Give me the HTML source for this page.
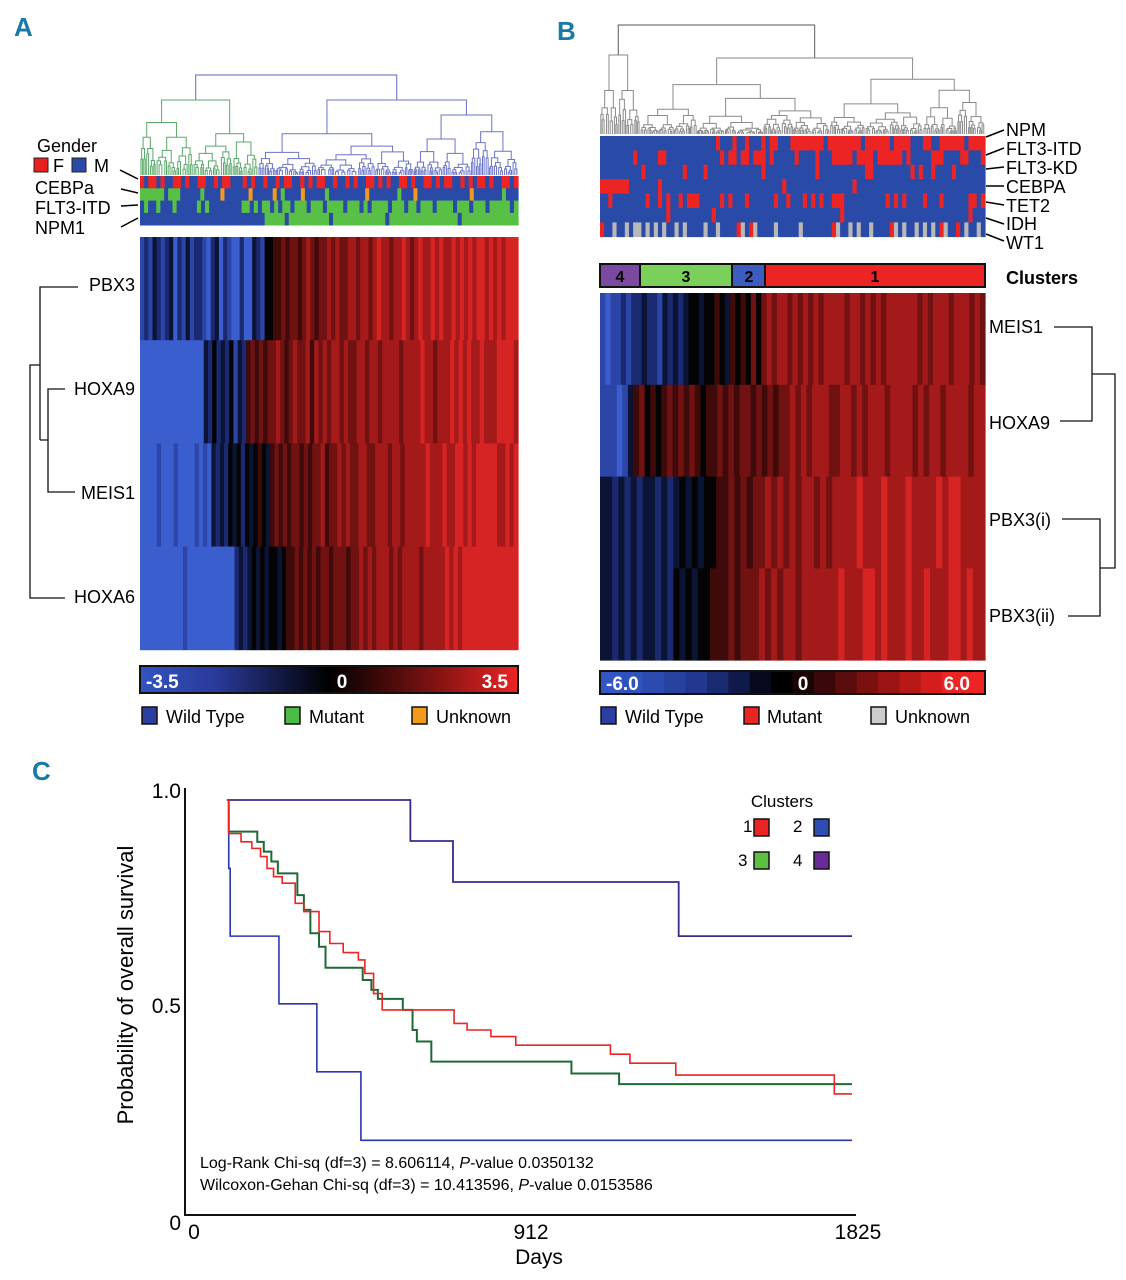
<!DOCTYPE html>
<html><head><meta charset="utf-8"><style>
html,body{margin:0;padding:0;background:#fff;}
svg{display:block;font-family:"Liberation Sans",sans-serif;}
</style></head><body>
<svg id="fig" width="1126" height="1280" viewBox="0 0 1126 1280" xmlns="http://www.w3.org/2000/svg">
<rect width="1126" height="1280" fill="#fff"/>
<g id="panelA">
 <text x="14" y="36" font-size="26" font-weight="bold" fill="#1b7aa5">A</text>
 <g id="dendA"></g>
 <g id="annA"></g>
 <g id="heatA"></g>
 <text x="37" y="152" font-size="18">Gender</text>
 <rect x="34" y="158" width="14" height="14" fill="#e82020" stroke="#222"/>
 <text x="53" y="172" font-size="18">F</text>
 <rect x="72" y="158" width="14" height="14" fill="#2a4aa8" stroke="#222"/>
 <text x="94" y="172" font-size="18">M</text>
 <text x="35" y="194" font-size="18">CEBPa</text>
 <text x="35" y="214" font-size="18">FLT3-ITD</text>
 <text x="35" y="234" font-size="18">NPM1</text>
 <g stroke="#000" stroke-width="1.5">
  <line x1="120" y1="170" x2="138" y2="179"/><line x1="121" y1="189" x2="138" y2="193"/>
  <line x1="121" y1="206" x2="138" y2="205"/><line x1="121" y1="227" x2="138" y2="218"/>
 </g>
 <g font-size="18" text-anchor="end">
  <text x="135" y="291">PBX3</text>
  <text x="135" y="395">HOXA9</text>
  <text x="135" y="499">MEIS1</text>
  <text x="135" y="603">HOXA6</text>
 </g>
 <path fill="none" stroke="#111" stroke-width="1.3"
  d="M78,287 H40 V440 M65,389 H48 V492 H75 M48,440 H40 M40,365 H30 V598 H65"/>
 <defs>
  <linearGradient id="gA" x1="0" x2="1"><stop offset="0" stop-color="#3254c0"/><stop offset="0.2" stop-color="#2a3a9a"/><stop offset="0.5" stop-color="#000"/><stop offset="0.8" stop-color="#8a1414"/><stop offset="1" stop-color="#ec2424"/></linearGradient>
 </defs>
 <rect x="140" y="666" width="378" height="27" fill="url(#gA)" stroke="#111" stroke-width="2"/>
 <text x="146" y="688" font-size="19" font-weight="bold" fill="#fff">-3.5</text>
 <text x="342" y="688" font-size="19" font-weight="bold" fill="#fff" text-anchor="middle">0</text>
 <text x="508" y="688" font-size="19" font-weight="bold" fill="#fff" text-anchor="end">3.5</text>
 <g font-size="18">
  <rect x="142" y="707" width="15" height="17" fill="#2a3fa0" stroke="#111" stroke-width="1.5"/>
  <text x="166" y="723">Wild Type</text>
  <rect x="285" y="707" width="15" height="17" fill="#4cbc48" stroke="#111" stroke-width="1.5"/>
  <text x="309" y="723">Mutant</text>
  <rect x="412" y="707" width="15" height="17" fill="#f39a1c" stroke="#111" stroke-width="1.5"/>
  <text x="436" y="723">Unknown</text>
 </g>
</g>

<g id="panelB">
 <text x="557" y="40" font-size="26" font-weight="bold" fill="#1b7aa5">B</text>
 <g id="dendB"></g>
 <g id="annB"></g>
 <g id="heatB"></g>
 <g font-size="18">
  <text x="1006" y="136">NPM</text>
  <text x="1006" y="155">FLT3-ITD</text>
  <text x="1006" y="174">FLT3-KD</text>
  <text x="1006" y="193">CEBPA</text>
  <text x="1006" y="212">TET2</text>
  <text x="1006" y="230">IDH</text>
  <text x="1006" y="249">WT1</text>
 </g>
 <g stroke="#000" stroke-width="1.5">
  <line x1="986" y1="137" x2="1004" y2="130"/><line x1="986" y1="155" x2="1004" y2="148"/>
  <line x1="986" y1="169" x2="1004" y2="167"/><line x1="986" y1="186" x2="1004" y2="186"/>
  <line x1="986" y1="202" x2="1004" y2="205"/><line x1="986" y1="218" x2="1004" y2="224"/>
  <line x1="986" y1="234" x2="1004" y2="241"/>
 </g>
 <g font-size="16" font-weight="bold" text-anchor="middle">
  <rect x="600" y="264" width="40" height="23" fill="#7a4aa0" stroke="#111" stroke-width="2"/>
  <text x="620" y="282">4</text>
  <rect x="640" y="264" width="92" height="23" fill="#7ad05a" stroke="#111" stroke-width="2"/>
  <text x="686" y="282">3</text>
  <rect x="732" y="264" width="33" height="23" fill="#3c5cc0" stroke="#111" stroke-width="2"/>
  <text x="749" y="282">2</text>
  <rect x="765" y="264" width="220" height="23" fill="#ec2424" stroke="#111" stroke-width="2"/>
  <text x="875" y="282">1</text>
 </g>
 <text x="1006" y="284" font-size="18" font-weight="bold">Clusters</text>
 <g font-size="18">
  <text x="989" y="333">MEIS1</text>
  <text x="989" y="429">HOXA9</text>
  <text x="989" y="526">PBX3(i)</text>
  <text x="989" y="622">PBX3(ii)</text>
 </g>
 <path fill="none" stroke="#111" stroke-width="1.3"
  d="M1054,327 H1092 V421 H1060 M1092,374 H1115 V568 H1100 M1062,519 H1100 V616 H1068"/>
 <g id="cbB"></g>
 <text x="606" y="690" font-size="19" font-weight="bold" fill="#fff">-6.0</text>
 <text x="803" y="690" font-size="19" font-weight="bold" fill="#fff" text-anchor="middle">0</text>
 <text x="970" y="690" font-size="19" font-weight="bold" fill="#fff" text-anchor="end">6.0</text>
 <g font-size="18">
  <rect x="601" y="707" width="15" height="17" fill="#2a3fa0" stroke="#111" stroke-width="1.5"/>
  <text x="625" y="723">Wild Type</text>
  <rect x="744" y="707" width="15" height="17" fill="#ec2424" stroke="#111" stroke-width="1.5"/>
  <text x="767" y="723">Mutant</text>
  <rect x="871" y="707" width="15" height="17" fill="#ccc" stroke="#111" stroke-width="1.5"/>
  <text x="895" y="723">Unknown</text>
 </g>
</g>

<g id="panelC">
 <text x="32" y="780" font-size="26" font-weight="bold" fill="#1b7aa5">C</text>
 <line x1="185" y1="788" x2="185" y2="1216" stroke="#111" stroke-width="2"/>
 <line x1="184" y1="1215" x2="856" y2="1215" stroke="#111" stroke-width="2"/>
 <g font-size="21" text-anchor="end">
  <text x="181" y="798">1.0</text>
  <text x="181" y="1013">0.5</text>
  <text x="181" y="1230">0</text>
 </g>
 <g font-size="21" text-anchor="middle">
  <text x="194" y="1239">0</text>
  <text x="531" y="1239">912</text>
  <text x="858" y="1239">1825</text>
 </g>
 <text x="539" y="1264" font-size="21" text-anchor="middle">Days</text>
 <text x="0" y="0" font-size="22" text-anchor="middle" transform="translate(133,985) rotate(-90)">Probability of overall survival</text>
 <g id="curves"></g>
 <g font-size="17">
  <text x="782" y="807" text-anchor="middle">Clusters</text>
  <text x="743" y="832">1</text>
  <rect x="754" y="819" width="15" height="17" fill="#ec2424" stroke="#111" stroke-width="1.5"/>
  <text x="793" y="832">2</text>
  <rect x="814" y="819" width="15" height="17" fill="#2f4cb0" stroke="#111" stroke-width="1.5"/>
  <text x="738" y="866">3</text>
  <rect x="754" y="852" width="15" height="17" fill="#5cc040" stroke="#111" stroke-width="1.5"/>
  <text x="793" y="866">4</text>
  <rect x="814" y="852" width="15" height="17" fill="#6a2a9a" stroke="#111" stroke-width="1.5"/>
 </g>
 <text x="200" y="1168" font-size="16">Log-Rank Chi-sq (df=3) = 8.606114, <tspan font-style="italic">P</tspan>-value 0.0350132</text>
 <text x="200" y="1190" font-size="16">Wilcoxon-Gehan Chi-sq (df=3) = 10.413596, <tspan font-style="italic">P</tspan>-value 0.0153586</text>
</g>
</svg>
<script>
// ---- Heatmap A data (0=blue ... 4=black ... 8=red) ----
const heatARowNames = ["PBX3","HOXA9","MEIS1","HOXA6"];
const heatARows = [
 "1213212302131221023021002003214"+"455656656765667676677677678776778767877878778787878878787888",
 "000000000000000"+"3242324132"+"5656566765676675767677676677677677776777787767778787877877788887",
 "00001000100001010"+"32324342434543"+"56565665656675667676677667776776777778777877887878888877878",
 "0000000000100000000000"+"2323434344345"+"56565656656665667676777676777767777"+"787878888888888888"
];
// ---- Heatmap B data ----
const heatBRowNames = ["MEIS1","HOXA9","PBX3(i)","PBX3(ii)"];
const heatBRows = [
 "1011"+"2122322132323"+"44344543545464"+"6767767676767777677676767777776767776777676",
 "11101"+"3564545656565455656566565656"+"676767776677676777677776767767777677",
 "3323232332323"+"4343445"+"5656566767676776767777877787778777787887777",
 "332323233232"+"43434455"+"5656667676776777777877788787778778777887877"
];
// ---- Annotation A (r=female,b=wild/male,g=mutant,o=unknown) ----
const annANames = ["Gender","CEBPa","FLT3-ITD","NPM1"];
const annARows = [
 "rbrrbrbbrrbrbbrrbbrbrrbbbrbrbbrbbrbrrbbrbrbrrbbrbbrbrbbrrbrbrbbrrbrbbrrbrbrrbbrbrbrrbrbbrrbr",
 "ggggggbgggbbbbbgbbbbobbbbbbobbbbbobgbbbbobbbbbgbbbbbbbbbobbbbbbbgbbbobbbbbbbbbbbbbobbbbbbbgbbb",
 "bgbbgbbbgbbbbbgbgbbbbbbbbggbgbggbgbggbgggbgggbggggbgggbgbggggbgggbggbgggbggggbgggbgggbgggggbg",
 "bbbbbbbbbbbbbbbbbbbbbbbbbbbbbbbgggggbggggggggggbgggggggggggggbgggggggggggggggggbgggggggggggggg"
];
// ---- Annotation B ----
const annBNames = ["NPM","FLT3-ITD","FLT3-KD","CEBPA","TET2","IDH","WT1"];
const annBRows = [
 "bbbbbbbbbbbbbbbbbbbbbbbbbbbbrbbbrbbrbbbrbrrbbbrrrrrrrrbrrrrrrrrbrrrrrrbrrrrbbbrrbbrrrrrrbrrrr",
 "bbbbbbbbrbbbbbrrbbbbbbbbbbbbbrbrrbrrbrrrbrbbbbbrbbbbrbbbrrrrrbrrrrbrrrrrrbrbbbbbrrrbbbbrrbbbr",
 "bbbbbbbbbbrbbbbbbbbbrbbbbrbbbbbbbbbbbbbrbbbbbbbbbbbbrbbbbbbbbbbbrrbbbbbbbbbrbrbbrbbbbrbbbbbbb",
 "rrrrrrrbbbbbbbrbbbbbbbbbbbbbbbbbbbbbbbbbbbbbrbbbbbbbbbbbbbbbbrbbbbbbbbbbbbbbbbbbbbbbbbbbbbbbb",
 "bbrbbbbbbbbrbbrbrbbrbrrrbbbbbrbrbbbrbbbbbbrbbrbbbrbrbrbbrrrbbbbbbbbbbrbrbrbbbbrbbbrbbbbbbrrbr",
 "bbbbbbbbbbbbbbbbrbbbbbbbbbbrbbbbbbbbbbbbbbbbbbbbbbbbbbbbbbrbbbbbbbbbbbbbbbbbbbbbbbbbbbbbbrbbb",
 "rbbxbbxbxxbxbxbxbbxbxbbbbxbbxbbbbrxbrxbbbbxbbbbbxbbbbbbbrxbbxbxbbxbbbbrxbxbbxbxbxbrxbbrbxbbxb"
];
// ---- Survival data (days, probability) ----
const c1Days = [94,99,133,163,187,205,223,247,283,307,349,379,416,458,476,500,524,723,759,825,894,1156,1210,1337,1776,1825];
const c1Surv = [1,0.918,0.898,0.882,0.862,0.833,0.813,0.797,0.748,0.728,0.679,0.65,0.628,0.61,0.577,0.528,0.488,0.455,0.439,0.423,0.402,0.38,0.358,0.329,0.283,0.283];
const c2Days = [94,99,103,238,343,465,1825];
const c2Surv = [1,0.833,0.668,0.503,0.337,0.17,0.17];
const c3Days = [94,99,178,196,217,235,289,307,325,349,367,470,494,512,581,608,620,660,1048,1180,1825];
const c3Surv = [1,0.923,0.898,0.874,0.85,0.821,0.768,0.732,0.675,0.642,0.591,0.561,0.537,0.515,0.488,0.439,0.411,0.362,0.333,0.307,0.307];
const c4Days = [94,602,720,1345,1825];
const c4Surv = [1,0.9,0.8,0.668,0.668];

const NS="http://www.w3.org/2000/svg";
function mk(parent,tag,attrs){const e=document.createElementNS(NS,tag);for(const k in attrs)e.setAttribute(k,attrs[k]);parent.appendChild(e);return e;}
const heatPal=['#3a5ece','#2c45a6','#1b2a70','#0c1436','#040404','#3e0a0a','#701212','#a41a1a','#d62424'];
const annPal={r:'#ec2424',b:'#2a4aa8',g:'#58c044',o:'#f39a1c',x:'#b8b8b8'};

function drawHeat(gid,rows,names,x0,w,y0,rh){
 const g=document.getElementById(gid);
 rows.forEach((s,ri)=>{const cw=w/s.length;
  for(let i=0;i<s.length;i++){
   const r=mk(g,'rect',{x:x0+i*cw,y:y0+ri*rh,width:cw+0.6,height:rh+0.4,fill:heatPal[+s[i]]});
   
   
  }});
}
function drawAnn(gid,rows,x0,w,y0,rh){
 const g=document.getElementById(gid);
 rows.forEach((s,ri)=>{const cw=w/s.length;
  for(let i=0;i<s.length;i++){
   const r=mk(g,'rect',{x:x0+i*cw,y:y0+ri*rh,width:cw+0.6,height:rh+0.3,fill:annPal[s[i]]});
   
   
  }});
}
drawAnn('annA',annARows,140,378,176,12.3);
drawHeat('heatA',heatARows,heatARowNames,140,378,237,103.2);
drawAnn('annB',annBRows,600,385,136,14.4);
drawHeat('heatB',heatBRows,heatBRowNames,600,385,293,91.8);

(function(){const g=document.getElementById('cbB');
 const steps=['#3356c4','#3052bc','#2c4ab0','#2842a0','#223890','#1a2a70','#101a48','#060a1c','#000','#1a0404','#3a0808','#5a0c0c','#7a1010','#9a1414','#b81818','#d41e1e','#ec2424','#ec2424'];
 const cw=385/steps.length;
 steps.forEach((c,i)=>{const r=mk(g,'rect',{x:600+i*cw,y:671,width:cw+0.5,height:23,fill:c});
  
  });
 const b=mk(g,'rect',{x:600,y:671,width:385,height:23,fill:'none',stroke:'#111','stroke-width':2});
 
 
})();

const splitF=[0.45,0.3,0.6,0.5,0.38,0.55,0.7,0.42];
const dropF=[0.25,0.4,0.3,0.5,0.2,0.35,0.45,0.28];
function dendro(g,x0,x1,y,yBot,depth,colorFn,k){
 if(depth===0||x1-x0<2.5){return (x0+x1)/2;}
 const f=splitF[(k+depth)%splitF.length];
 const xm=x0+(x1-x0)*f;
 const yl=y+(yBot-y)*dropF[(k*3+depth)%dropF.length];
 const yr=y+(yBot-y)*dropF[(k*5+depth+2)%dropF.length];
 const cl=dendro(g,x0,xm,yl,yBot,depth-1,colorFn,k*2+1);
 const cr=dendro(g,xm,x1,yr,yBot,depth-1,colorFn,k*2+2);
 const ylL=(depth-1===0||xm-x0<2.5)?yBot:yl, yrR=(depth-1===0||x1-xm<2.5)?yBot:yr;
 const p=mk(g,'path',{d:`M${cl},${ylL} V${y} H${cr} V${yrR}`,fill:'none',stroke:colorFn((cl+cr)/2),'stroke-width':1});
 
 
 return (cl+cr)/2;
}
(function(){
 const gA=document.getElementById('dendA');
 const colA=x=>x<258?'#5aa86a':'#6a74c8';
 const l=dendro(gA,140,258,100,175,7,colA,1);
 const r=dendro(gA,258,518,100,175,8,colA,2);
 const p1=mk(gA,'path',{d:`M${l},100 V75 H${r} V100`,fill:'none',stroke:'#7a80cc','stroke-width':1.2});
 
 
 const gB=document.getElementById('dendB');
 const colB=()=> '#8a8a8a';
 const a=dendro(gB,600,640,55,134,5,colB,3);
 const b=dendro(gB,640,985,58,134,9,colB,4);
 const p2=mk(gB,'path',{d:`M${a},55 V25 H${b} V58`,fill:'none',stroke:'#777','stroke-width':1.2});
 
 
})();

const xS=d=>193+d*(659/1825);
const yS=p=>1210-p*410;
function curve(days,surv,color,name,w){
 let d=`M${xS(days[0])},${yS(surv[0])}`;
 for(let i=1;i<days.length;i++){d+=` H${xS(days[i])} V${yS(surv[i])}`;}
 const p=mk(document.getElementById('curves'),'path',{d:d,fill:'none',stroke:color,'stroke-width':w});
 
 
}
curve(c4Days,c4Surv,'#3a2a8c','curve-cluster-4',1.8);
curve(c2Days,c2Surv,'#2a36b0','curve-cluster-2',1.6);
curve(c3Days,c3Surv,'#1e6a36','curve-cluster-3',2);
curve(c1Days,c1Surv,'#ec2424','curve-cluster-1',1.6);
</script>
</body></html>
